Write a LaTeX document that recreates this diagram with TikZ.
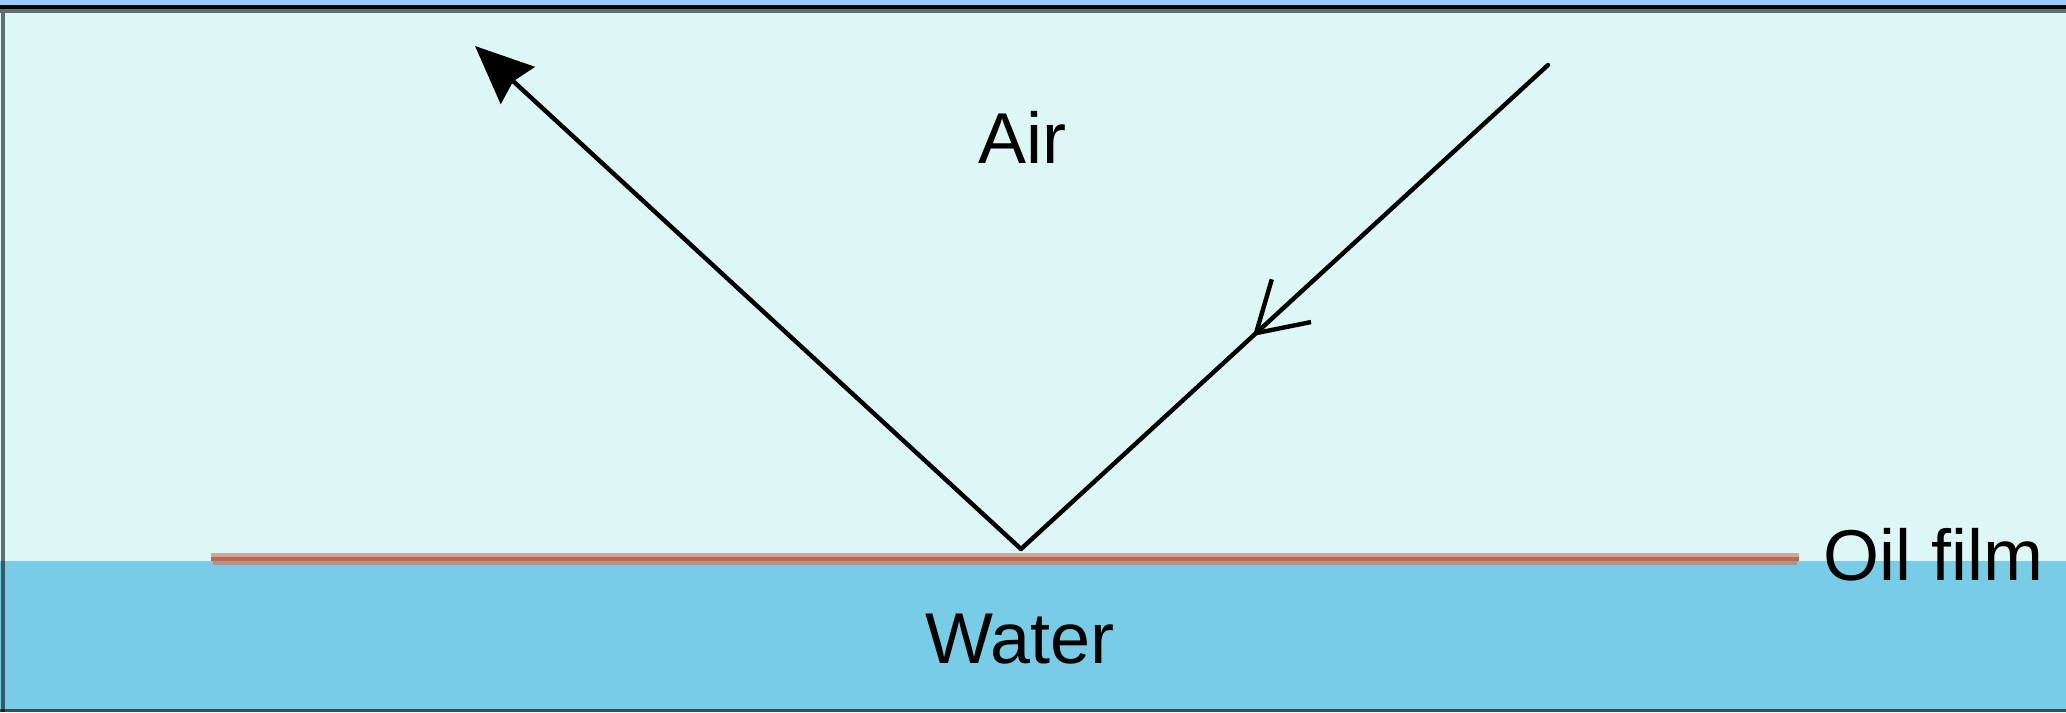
\documentclass[tikz,border=0pt]{standalone}
\usepackage{fontspec}
\setmainfont{Liberation Sans}
\usetikzlibrary{arrows.meta,decorations.markings}
\definecolor{topstrip}{HTML}{99CCFF}
\definecolor{aircol}{HTML}{DDF7F7}
\definecolor{watercol}{HTML}{78CCE6}
\definecolor{oilcol}{HTML}{C0684A}
\definecolor{oiltop}{HTML}{C8A8A0}
\definecolor{oilbot}{HTML}{A09A90}
\tikzset{
  lbl/.style={font=\fontsize{36pt}{43pt}\selectfont, text=black, inner sep=0pt},
  ray/.style={draw=black, line width=2.2pt, line cap=round},
  midarrow/.style={postaction={decorate, decoration={markings,
      mark=at position #1 with {\arrow{Straight Barb[length=24pt, width=29pt, line width=2.2pt]}}}}}
}
\begin{document}
\begin{tikzpicture}[x=0.5pt, y=-0.5pt]
\useasboundingbox (0,0) rectangle (2066,712);
% backgrounds
\fill[topstrip] (0,0) rectangle (2066,5);
\fill[aircol] (0,5) rectangle (2066,561);
\fill[watercol] (0,561) rectangle (2066,712);
% borders
\fill[black] (0,5) rectangle (2066,9);
\fill[black, opacity=0.55] (0,9) rectangle (2066,13);
\fill[black, opacity=0.55] (1,13) rectangle (5,712);
\fill[black, opacity=0.6] (0,709) rectangle (2066,712);
% oil film
\fill[oiltop] (211,553) rectangle (1799,557);
\fill[oilcol] (211,557) rectangle (1799,561);
\fill[oilbot] (213,561) rectangle (1797,565);
% rays
\coordinate (S) at (1548,65);
\coordinate (V) at (1021,549);
\coordinate (T) at (475,46);
\path[ray, midarrow=0.56] (S) -- (V);
\draw[ray, -{Stealth[length=29pt, width=25pt, inset=3pt]}] (V) -- (T);
% labels
\node[lbl, anchor=base] (air) at (1022,163) {Air};
\node[lbl, anchor=base] (water) at (1020,663) {Water};
\node[lbl, anchor=base west] (oil) at (1823,580) {Oil film};
\end{tikzpicture}
\end{document}
